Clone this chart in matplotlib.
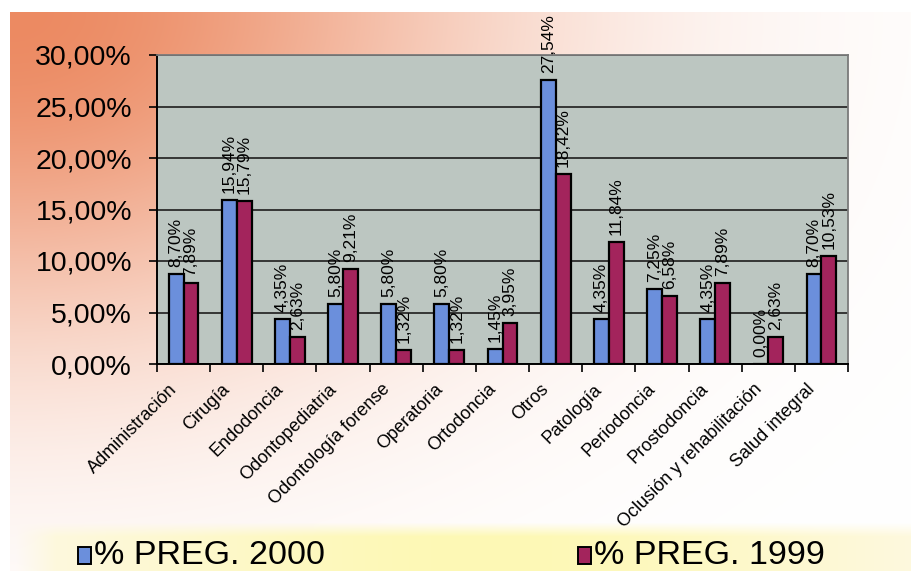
import matplotlib
matplotlib.use("Agg")
import matplotlib.pyplot as plt
import numpy as np
from matplotlib.patches import Rectangle
from matplotlib.ticker import FuncFormatter
from matplotlib.transforms import ScaledTranslation

plt.rcParams['font.family'] = ['Liberation Sans', 'DejaVu Sans']

categorias = ['Administración', 'Cirugía', 'Endodoncia', 'Odontopediatria',
              'Odontología forense', 'Operatoria', 'Ortodoncia', 'Otros',
              'Patología', 'Periodoncia', 'Prostodoncia',
              'Oclusión y rehabilitación', 'Salud integral']
preg_2000 = [8.70, 15.94, 4.35, 5.80, 5.80, 5.80, 1.45, 27.54, 4.35, 7.25, 4.35, 0.00, 8.70]
preg_1999 = [7.89, 15.79, 2.63, 9.21, 1.32, 1.32, 3.95, 18.42, 11.84, 6.58, 7.89, 2.63, 10.53]
series = ['% PREG. 2000', '% PREG. 1999']
colores = ['#6b8fdc', '#a3245c']

W, H = 911, 571
fig = plt.figure(figsize=(W / 100, H / 100), dpi=100)

# slide background: salmon glow top-left, pale yellow band at the bottom
yy, xx = np.mgrid[0:H, 0:W].astype(float)
t = np.exp(-((xx - 10) / 470) ** 2 - ((yy - 12) / 320) ** 2)
t[(xx < 10) | (yy < 12)] = 0
naranja = np.array([236, 138, 98]) / 255
bg = 1 - t[..., None] * (1 - naranja)
banda = np.clip((yy - 522) / 14, 0, 1) * np.clip((xx - 15) / 40, 0, 1)
amar = np.stack([np.full_like(xx, 0.995), np.full_like(xx, 0.975),
                 np.clip(0.93 - np.exp(-((xx - 480) / 380) ** 2) * 0.22, 0, 1)], -1)
bg = bg * (1 - banda[..., None]) + amar * banda[..., None]
ax_bg = fig.add_axes([0, 0, 1, 1], zorder=-1)
ax_bg.imshow(bg, extent=[0, 1, 0, 1], aspect='auto')
ax_bg.axis('off')

ax = fig.add_axes([157 / W, 1 - 364 / H, (848 - 157) / W, (364 - 55) / H])
ax.set_facecolor('#bcc6c1')

x = np.arange(len(categorias))
ancho = 0.28
for k, (vals, col) in enumerate(zip([preg_2000, preg_1999], colores)):
    pos = x + (k - 0.5) * ancho
    ax.bar(pos, vals, ancho, color=col, edgecolor='black', linewidth=1.6, zorder=3)
    for px, v in zip(pos, vals):
        ax.annotate(f'{v:.2f}%'.replace('.', ','), (px, v), xytext=(0, 5),
                    textcoords='offset points', rotation=90, ha='center',
                    va='bottom', fontsize=12.5, zorder=4, annotation_clip=False)

ax.set_xlim(-0.5, len(categorias) - 0.5)
ax.set_ylim(0, 30)
ax.set_yticks(np.arange(0, 31, 5))
ax.yaxis.set_major_formatter(FuncFormatter(lambda v, p: f'{v:.2f}%'.replace('.', ',')))
ax.tick_params(axis='y', labelsize=20.5, length=6, width=1.2, pad=12)
ax.grid(axis='y', color='#2a2a2a', linewidth=1.3, zorder=1)

# tick marks between categories, labels at category centres
ax.set_xticks(np.arange(len(categorias) + 1) - 0.5)
ax.set_xticklabels([])
ax.tick_params(axis='x', which='major', length=6, width=1.2)
ax.set_xticks(x, categorias, minor=True, rotation=45, ha='right',
              rotation_mode='anchor', fontsize=13)
ax.tick_params(axis='x', which='minor', length=0, pad=12)
for lab in ax.get_xticklabels(minor=True):
    lab.set_transform(lab.get_transform() + ScaledTranslation(-11 / 72, 0, fig.dpi_scale_trans))

for s in ['top', 'right']:
    ax.spines[s].set_color('#7a7a7a')
    ax.spines[s].set_linewidth(1.3)
for s in ['left', 'bottom']:
    ax.spines[s].set_color('black')
    ax.spines[s].set_linewidth(1.4)

# legend along the bottom band
for xs, nombre, col in zip([78, 578], series, colores):
    fig.patches.append(Rectangle((xs / W, 1 - 564 / H), 13 / W, 17 / H,
                                 transform=fig.transFigure, facecolor=col,
                                 edgecolor='black', linewidth=1.4))
    fig.text((xs + 16) / W, 1 - 555 / H, nombre, fontsize=24.5, va='center', ha='left')

fig.savefig('out.png', dpi=100)
